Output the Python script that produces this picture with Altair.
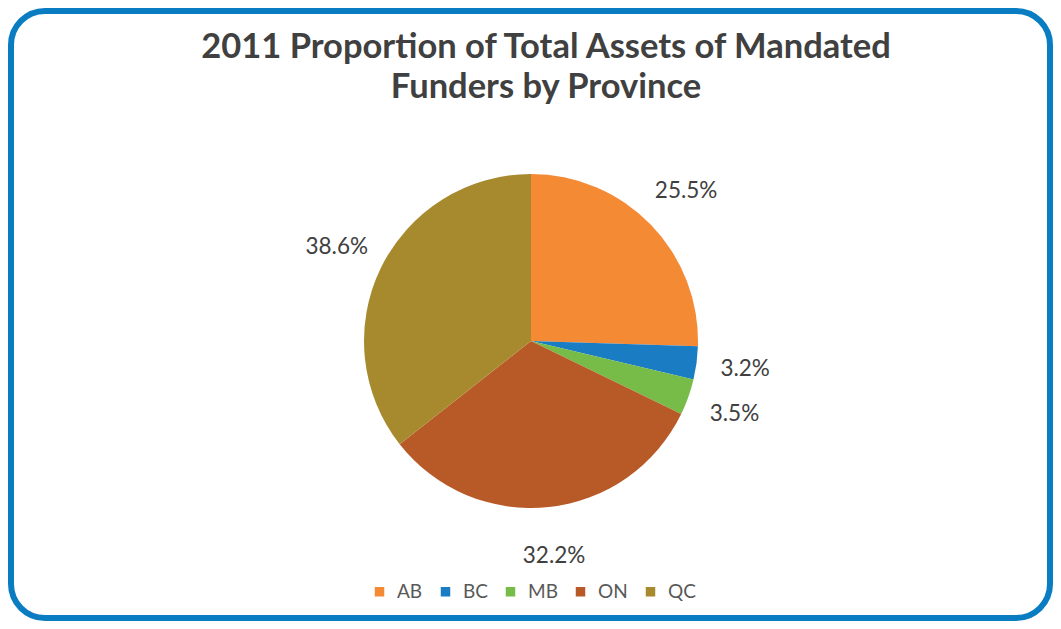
import altair as alt
import pandas as pd

provinces = ["AB", "BC", "MB", "ON", "QC"]
shares = [25.5, 3.2, 3.5, 32.2, 35.6]
labels = ["25.5%", "3.2%", "3.5%", "32.2%", "38.6%"]
colors = ["#F58A35", "#1A7DC4", "#77BB48", "#B85A28", "#A88A2E"]
title_lines = ["2011 Proportion of Total Assets of Mandated", "Funders by Province"]

df = pd.DataFrame({"province": provinces, "share": shares, "label": labels,
                   "order": list(range(len(provinces)))})

W, H = 1045, 613
CX, CY = 523, 333
R = 167

border = alt.Chart(alt.Data(values=[{"a": 1}])).mark_rect(
    fill="white", stroke="#0A7DC2", strokeWidth=6, cornerRadius=34
).encode(x=alt.value(3), x2=alt.value(W - 3), y=alt.value(3), y2=alt.value(H - 3))

base = alt.Chart(df).encode(
    theta=alt.Theta("share:Q", stack=True),
    order=alt.Order("order:O"),
)

arcs = base.mark_arc(outerRadius=R, strokeWidth=0).encode(
    x=alt.value(CX), y=alt.value(CY),
    color=alt.Color(
        "province:N",
        scale=alt.Scale(domain=provinces, range=colors),
        legend=alt.Legend(
            title=None, orient="none", direction="horizontal",
            legendX=362, legendY=574, symbolType="square", symbolSize=90,
            symbolStrokeWidth=0, labelFont="Lato", labelFontSize=19,
            labelColor="#595959", labelOffset=8, columnPadding=13, padding=0,
        ),
    ),
)

text = base.mark_text(radius=216, font="Lato", fontSize=22.5, color="#404040").encode(
    x=alt.value(CX), y=alt.value(CY), text="label:N"
)

t1 = alt.Chart(alt.Data(values=[{"a": 1}])).mark_text(
    font="Lato", fontSize=34.5, fontWeight="bold", color="#404040", baseline="alphabetic"
).encode(x=alt.value(538), y=alt.value(50), text=alt.value(title_lines[0]))
t2 = alt.Chart(alt.Data(values=[{"a": 1}])).mark_text(
    font="Lato", fontSize=34.5, fontWeight="bold", color="#404040", baseline="alphabetic"
).encode(x=alt.value(538), y=alt.value(90), text=alt.value(title_lines[1]))

chart = alt.layer(border, arcs, text, t1, t2).properties(
    width=W, height=H, padding=0, autosize=alt.AutoSizeParams(type="none"),
    background="white",
).configure_view(stroke=None)

chart.save("out.html", embed_options={"renderer": "svg", "actions": False})
